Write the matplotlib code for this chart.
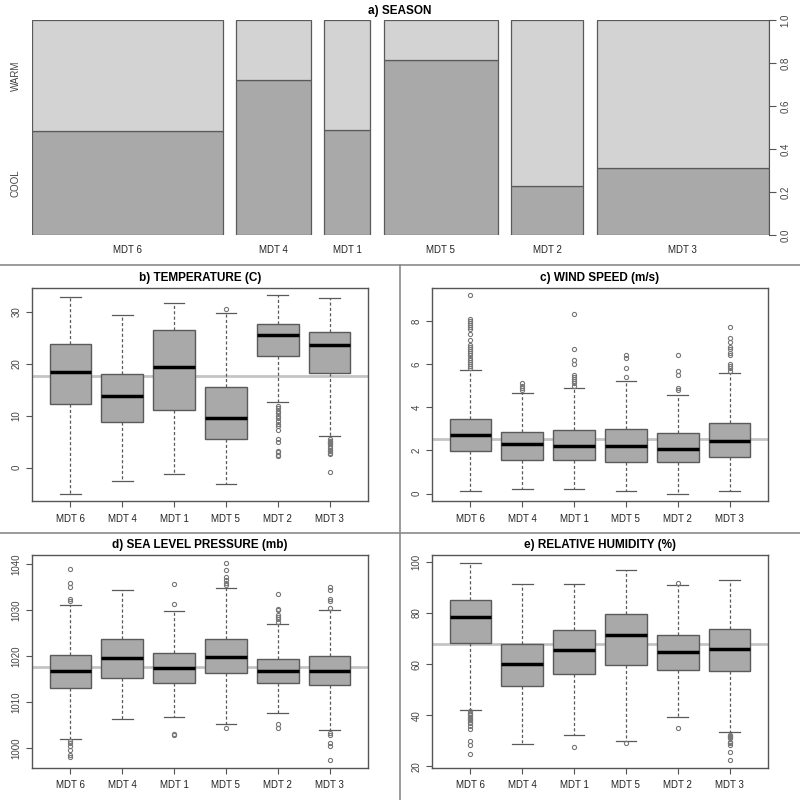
import matplotlib
matplotlib.use("Agg")
import matplotlib.pyplot as plt
from matplotlib.lines import Line2D

plt.rcParams['font.family'] = ['Liberation Sans', 'DejaVu Sans']

groups = ["MDT 6", "MDT 4", "MDT 1", "MDT 5", "MDT 2", "MDT 3"]

# a) season spineplot
group_share = [0.285, 0.111, 0.069, 0.170, 0.108, 0.257]
cool_frac = [0.482, 0.720, 0.487, 0.812, 0.226, 0.313]

# box statistics: lower whisker, Q1, median, Q3, upper whisker
temp_whislo = [-5.0, -2.5, -1.2, -3.1, 12.6, 6.2]
temp_q1 = [12.2, 8.8, 11.2, 5.5, 21.6, 18.2]
temp_med = [18.4, 13.8, 19.4, 9.5, 25.5, 23.6]
temp_q3 = [23.8, 18.0, 26.5, 15.5, 27.7, 26.1]
temp_whishi = [32.8, 29.4, 31.8, 29.7, 33.3, 32.6]
temp_fliers = [[], [], [], [30.5],
               [11.8, 11.5, 11.0, 10.5, 10.0, 9.5, 9.0, 8.5, 8.0, 7.2, 5.5, 5.0, 3.3, 3.0, 2.5, 2.2],
               [5.5, 5.2, 5.0, 4.8, 4.5, 4.2, 3.8, 3.5, 3.2, 2.8, 2.6, -0.8]]
temp_ref = 17.7

wind_whislo = [0.1, 0.2, 0.2, 0.1, 0.0, 0.1]
wind_q1 = [1.97, 1.55, 1.55, 1.47, 1.47, 1.70]
wind_med = [2.71, 2.32, 2.20, 2.21, 2.09, 2.46]
wind_q3 = [3.47, 2.86, 2.94, 2.97, 2.79, 3.28]
wind_whishi = [5.71, 4.67, 4.91, 5.20, 4.57, 5.60]
wind_fliers = [[5.8, 5.9, 6.0, 6.1, 6.2, 6.3, 6.4, 6.5, 6.6, 6.7, 6.8, 6.9, 7.1, 7.4, 7.6, 7.7, 7.8, 7.9, 8.0, 8.1, 9.2],
               [4.8, 4.9, 5.0, 5.1],
               [5.0, 5.1, 5.2, 5.3, 5.4, 5.5, 6.0, 6.2, 6.7, 8.3],
               [5.4, 5.8, 6.3, 6.4],
               [4.8, 4.9, 5.5, 5.7, 6.4],
               [5.7, 5.8, 5.9, 6.0, 6.4, 6.5, 6.7, 6.8, 7.0, 7.2, 7.7]]
wind_ref = 2.52

slp_whislo = [1002.0, 1006.3, 1006.7, 1005.1, 1007.5, 1003.8]
slp_q1 = [1013.0, 1015.2, 1014.1, 1016.2, 1014.1, 1013.6]
slp_med = [1016.7, 1019.5, 1017.4, 1019.8, 1016.7, 1016.7]
slp_q3 = [1020.3, 1023.8, 1020.6, 1023.8, 1019.4, 1020.1]
slp_whishi = [1031.2, 1034.3, 1029.9, 1034.9, 1027.0, 1030.0]
slp_fliers = [[1032.0, 1032.5, 1035.0, 1036.0, 1039.0, 1001.5, 1001.0, 1000.5, 999.5, 998.5, 998.0],
              [],
              [1031.3, 1035.6, 1003.0, 1002.8],
              [1035.5, 1036.0, 1036.5, 1037.3, 1038.7, 1040.3, 1004.3],
              [1027.5, 1028.0, 1028.5, 1029.0, 1030.0, 1030.3, 1033.5, 1005.2, 1004.3],
              [1030.5, 1032.0, 1032.5, 1034.3, 1035.0, 1003.2, 1002.8, 1001.0, 1000.5, 997.3]]
slp_ref = 1017.7

rh_whislo = [41.9, 28.9, 32.3, 29.8, 39.2, 33.3]
rh_q1 = [68.3, 51.5, 56.2, 59.7, 57.8, 57.5]
rh_med = [78.5, 60.1, 65.4, 71.4, 64.7, 66.0]
rh_q3 = [85.2, 67.8, 73.5, 79.8, 71.3, 73.6]
rh_whishi = [99.4, 91.2, 91.2, 96.8, 91.1, 92.8]
rh_fliers = [[41.5, 41.0, 40.5, 40.0, 39.5, 39.0, 38.5, 38.0, 37.5, 37.0, 36.0, 34.5, 30.0, 28.5, 25.0],
             [],
             [27.5],
             [29.0],
             [35.2, 91.8],
             [32.5, 32.0, 31.5, 31.0, 29.5, 29.0, 28.5, 25.5, 22.5]]
rh_ref = 67.8

W, H = 800, 800
fig = plt.figure(figsize=(8, 8), dpi=100)
fig.patch.set_facecolor("white")

def px_axes(x0, y0, x1, y1):
    return fig.add_axes([x0 / W, 1 - y1 / H, (x1 - x0) / W, (y1 - y0) / H])

LIGHT = "#d3d3d3"
DARK = "#a9a9a9"
EDGE = "#5a5a5a"
AXC = "#555555"

# ---------- a) spineplot ----------
ax = px_axes(32, 20, 769, 235)
off = 0.02
lefts = []
x = 0.0
for w in group_share:
    lefts.append(x)
    x += w + off
ax.bar(lefts, cool_frac, width=group_share, align="edge", color=DARK, edgecolor=EDGE, linewidth=0.9)
ax.bar(lefts, [1 - c for c in cool_frac], bottom=cool_frac, width=group_share, align="edge",
       color=LIGHT, edgecolor=EDGE, linewidth=0.9)
ax.set_xlim(0, 1 + off * (len(groups) - 1))
ax.set_ylim(0, 1)
for s in ["top", "bottom", "left"]:
    ax.spines[s].set_visible(False)
ax.spines["right"].set_color(AXC)
ax.yaxis.tick_right()
ax.set_yticks([0, 0.2, 0.4, 0.6, 0.8, 1.0])
ax.set_yticklabels(["0.0", "0.2", "0.4", "0.6", "0.8", "1.0"], rotation=90, va="center")
ax.tick_params(axis="y", colors=AXC, labelcolor="#444444", labelsize=7, length=5)
ax.set_xticks([l + w / 2 for l, w in zip(lefts, group_share)])
ax.set_xticklabels(groups)
ax.tick_params(axis="x", length=0, labelsize=7, pad=7, labelcolor="#222222")
ax.text(-0.015, cool_frac[0] / 2, "COOL", rotation=90, ha="right", va="center",
        fontsize=7, color="#444444", transform=ax.get_yaxis_transform(which="grid"))
ax.text(-0.015, (1 + cool_frac[0]) / 2, "WARM", rotation=90, ha="right", va="center",
        fontsize=7, color="#444444", transform=ax.get_yaxis_transform(which="grid"))
fig.text(400 / W, 1 - 11 / H, "a) SEASON", ha="center", va="center", fontsize=8.5, fontweight="bold")

# ---------- box panels ----------
def box_panel(rect, title, title_y, whislo, q1, med, q3, whishi, fliers, ref, ylim, yticks, yticklabels):
    ax = px_axes(*rect)
    stats = []
    for i in range(len(groups)):
        stats.append(dict(whislo=whislo[i], q1=q1[i], med=med[i], q3=q3[i], whishi=whishi[i],
                          fliers=fliers[i], label=groups[i]))
    ax.axhline(ref, color="#c4c4c4", linewidth=2.0, zorder=1)
    ax.bxp(stats, positions=range(1, len(groups) + 1), widths=0.8, patch_artist=True,
           showfliers=True,
           boxprops=dict(facecolor=DARK, edgecolor=EDGE, linewidth=1.0),
           medianprops=dict(color="black", linewidth=2.5),
           whiskerprops=dict(color=EDGE, linewidth=0.9, linestyle=(0, (2.5, 1.8))),
           capprops=dict(color=EDGE, linewidth=0.9),
           capwidths=0.4,
           flierprops=dict(marker="o", markersize=3.0, markerfacecolor="none",
                           markeredgecolor="#777777", markeredgewidth=0.8, linestyle="none"),
           zorder=3)
    ax.set_xlim(0.26, 6.74)
    ax.set_ylim(*ylim)
    ax.set_yticks(yticks)
    ax.set_yticklabels(yticklabels, rotation=90, va="center")
    for s in ax.spines.values():
        s.set_color(AXC)
        s.set_linewidth(1.0)
    ax.tick_params(axis="both", colors=AXC, labelsize=7, length=4, labelcolor="#444444")
    ax.tick_params(axis="x", labelcolor="#222222", pad=5)
    cx = (rect[0] + rect[2]) / 2
    fig.text(cx / W, 1 - title_y / H, title, ha="center", va="center", fontsize=8.5, fontweight="bold")
    return ax

box_panel((32, 288, 368, 501), "b) TEMPERATURE (C)", 278,
          temp_whislo, temp_q1, temp_med, temp_q3, temp_whishi, temp_fliers, temp_ref,
          (-6.4, 34.6), [0, 10, 20, 30], ["0", "10", "20", "30"])
box_panel((432, 288, 768, 501), "c) WIND SPEED (m/s)", 278,
          wind_whislo, wind_q1, wind_med, wind_q3, wind_whishi, wind_fliers, wind_ref,
          (-0.34, 9.52), [0, 2, 4, 6, 8], ["0", "2", "4", "6", "8"])
box_panel((32, 555, 368, 768), "d) SEA LEVEL PRESSURE (mb)", 545,
          slp_whislo, slp_q1, slp_med, slp_q3, slp_whishi, slp_fliers, slp_ref,
          (995.6, 1042.0), [1000, 1010, 1020, 1030, 1040], ["1000", "1010", "1020", "1030", "1040"])
box_panel((432, 555, 768, 768), "e) RELATIVE HUMIDITY (%)", 545,
          rh_whislo, rh_q1, rh_med, rh_q3, rh_whishi, rh_fliers, rh_ref,
          (19.4, 102.7), [20, 40, 60, 80, 100], ["20", "40", "60", "80", "100"])

# separators
sep = "#8a8a8a"
fig.add_artist(Line2D([0, 1], [1 - 265.5 / H, 1 - 265.5 / H], color=sep, linewidth=1.2, transform=fig.transFigure))
fig.add_artist(Line2D([0, 1], [1 - 532.5 / H, 1 - 532.5 / H], color=sep, linewidth=1.2, transform=fig.transFigure))
fig.add_artist(Line2D([0.5, 0.5], [0, 1 - 265.5 / H], color=sep, linewidth=1.2, transform=fig.transFigure))

fig.savefig("out.png", dpi=100, facecolor="white")
